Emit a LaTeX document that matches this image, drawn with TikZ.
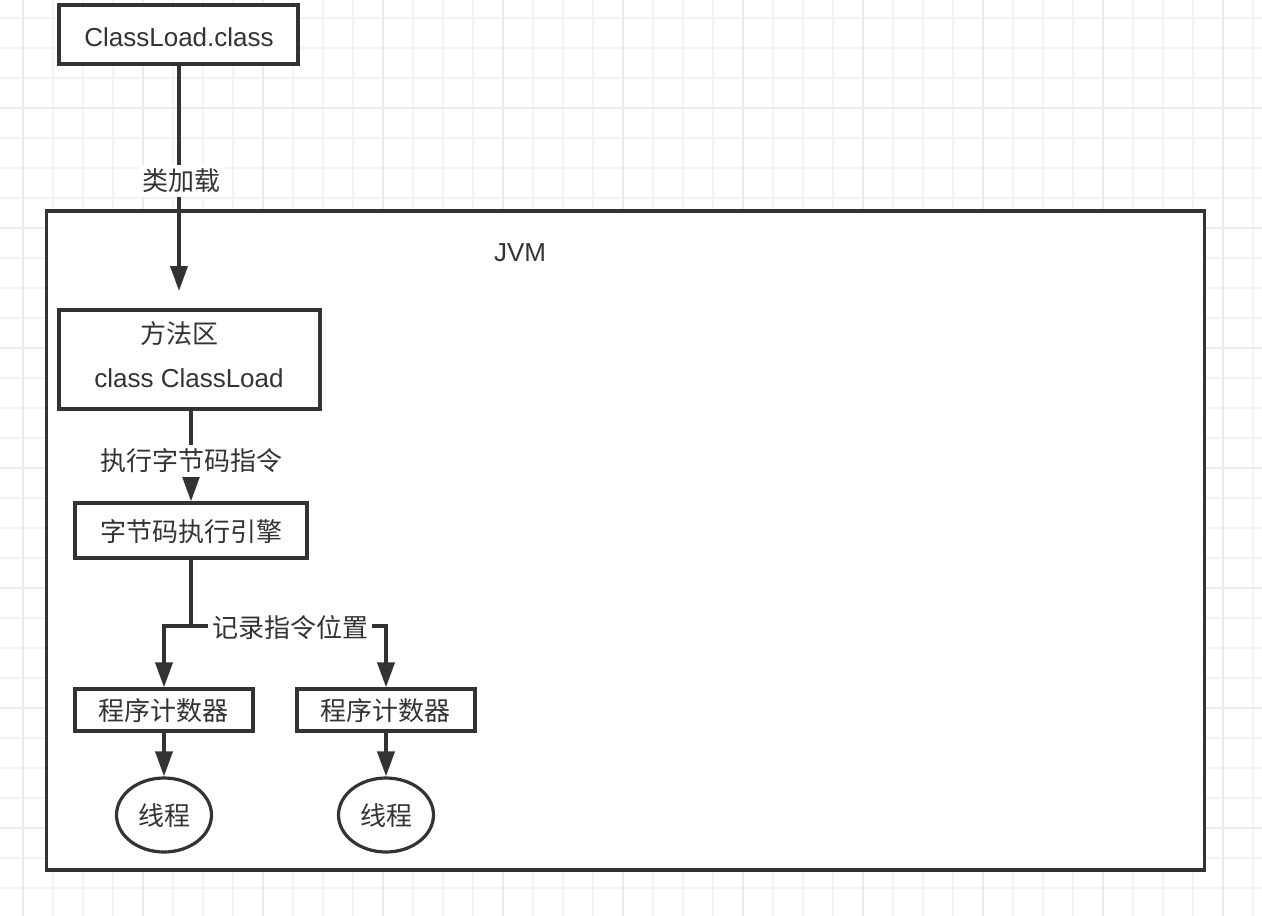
\documentclass[tikz,border=0pt]{standalone}
\usepackage{fontspec}
\setmainfont{Liberation Sans}
\newfontfamily\cjk{Noto Sans CJK SC}
\usetikzlibrary{arrows.meta,shapes.geometric}
\definecolor{ink}{HTML}{333333}
\definecolor{gridminor}{HTML}{F3F3F3}
\definecolor{gridmajor}{HTML}{EBEBEB}
\tikzset{
	box/.style={draw=ink, line width=3.2pt, fill=white, inner sep=0pt},
	txt/.style={text=ink, font=\fontsize{26}{31}\selectfont, inner sep=0pt},
	tag/.style={txt, fill=white, inner sep=4pt},
	conn/.style={draw=ink, line width=3.8pt, -{Triangle[length=25pt,width=17pt]}},
}
\begin{document}
\begin{tikzpicture}[x=1pt,y=-1pt]
	\useasboundingbox (0,0) rectangle (1262,916);
	\fill[white] (0,0) rectangle (1262,916);
	% grid
	\foreach \x in {23,53,...,1253} \draw[gridminor, line width=1.2pt] (\x,0) -- (\x,916);
	\foreach \y in {18,48,...,908} \draw[gridminor, line width=1.2pt] (0,\y) -- (1262,\y);
	\foreach \x in {23,143,...,1223} \draw[gridmajor, line width=1.5pt] (\x,0) -- (\x,916);
	\foreach \y in {108,228,...,828} \draw[gridmajor, line width=1.5pt] (0,\y) -- (1262,\y);

	\node[box, minimum width=1158, minimum height=659] (jvm) at (625.5,540.5) {};
	\node[txt] (jvmname) at (520,253) {JVM};

	\node[box, minimum width=239, minimum height=59] (cls) at (178.5,34.5) {};
	\node[txt] (clsname) at (179,37) {ClassLoad.class};

	\node[box, minimum width=261, minimum height=99] (method) at (189.5,359.5) {};
	\node[txt] (methodname) at (179,334) {\cjk 方法区};
	\node[txt] (methodcls) at (189,378) {class ClassLoad};

	\node[box, minimum width=232, minimum height=55] (engine) at (191,530.5) {};
	\node[txt] (enginename) at (191,532) {\cjk 字节码执行引擎};

	\node[box, minimum width=178, minimum height=42] (pc1) at (164,710) {};
	\node[box, minimum width=178, minimum height=42] (pc2) at (386,710) {};
	\node[txt] (pc1name) at (163,711) {\cjk 程序计数器};
	\node[txt] (pc2name) at (385,711) {\cjk 程序计数器};

	\node[box, ellipse, minimum width=95, minimum height=74] (t1) at (164,815) {};
	\node[box, ellipse, minimum width=95, minimum height=74] (t2) at (386,815) {};
	\node[txt] (t1name) at (164,816) {\cjk 线程};
	\node[txt] (t2name) at (386,816) {\cjk 线程};

	% connectors
	\coordinate (loadend) at (179,291);
	\coordinate (fork) at (191,626);
	\draw[conn] (cls.south -| loadend) -- (loadend);
	\draw[conn] (method.south -| engine.north) -- (engine.north);
	\draw[conn] (engine.south) -- (fork) -| (pc1.north);
	\draw[conn] (fork) -| (pc2.north);
	\draw[conn] (pc1.south) -- (t1.north);
	\draw[conn] (pc2.south) -- (t2.north);

	\node[tag] (loadtag) at (181,181) {\cjk 类加载};
	\node[tag] (runtag) at (191,461) {\cjk 执行字节码指令};
	\node[tag] (recordtag) at (290,628) {\cjk 记录指令位置};
\end{tikzpicture}
\end{document}
